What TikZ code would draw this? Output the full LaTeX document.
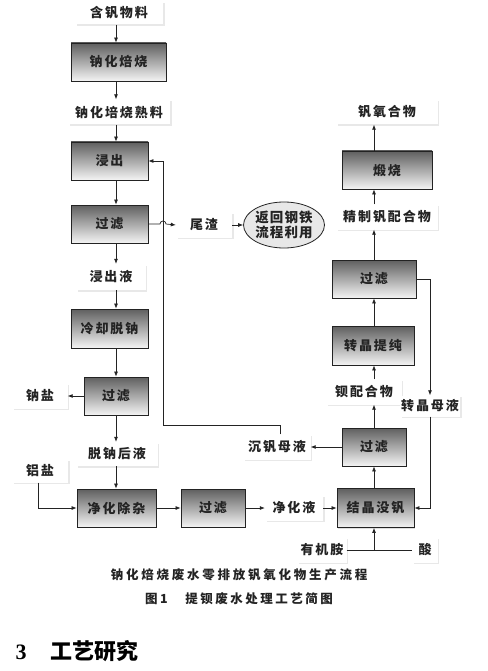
\documentclass[tikz,border=0pt]{standalone}
\usepackage{fontspec}
\setmainfont{Noto Sans CJK SC}
\newfontfamily\serifnum{Liberation Serif}
\usepackage{tikz}
\usetikzlibrary{arrows.meta}
\usetikzlibrary{shadows}
\usetikzlibrary{shapes.geometric}
\usepackage{xcolor}
\definecolor{boxtop}{RGB}{95,95,95}
\definecolor{boxbot}{RGB}{244,244,244}
\definecolor{ink}{RGB}{35,35,35}

\begin{document}
\begin{tikzpicture}[x=1pt,y=-1pt,
  spaced/.style={font=\bfseries\fontsize{13}{15}\selectfont\addfontfeature{LetterSpace=15}},
  stepbox/.style={draw=ink,line width=0.8pt,top color=boxtop,bottom color=boxbot,
    text=ink,inner sep=0pt,spaced,
    drop shadow={shadow xshift=1pt,shadow yshift=-1pt,opacity=0.25}},
  tag/.style={fill=white,text=ink,inner sep=0pt,spaced,
    drop shadow={shadow xshift=1.5pt,shadow yshift=-1.5pt,opacity=0.18,fill=gray}},
  arr/.style={draw=ink,line width=0.7pt,-{Latex[length=5pt,width=4pt]}},
  line/.style={draw=ink,line width=0.7pt}]
\useasboundingbox (0,0) rectangle (487,671);
\coordinate (spine) at (116,0);
\coordinate (spineR) at (374,0);

% left column
\node[tag,minimum width=88,minimum height=23] (hanfan) at (119,13) {含钒物料};
\node[stepbox,minimum width=95,minimum height=38] (shaohua) at (118.5,62) {钠化焙烧};
\node[tag,minimum width=102,minimum height=25] (shuliao) at (119,112) {钠化培烧熟料};
\node[stepbox,minimum width=77,minimum height=38] (jinchu) at (109.5,161) {浸出};
\node[stepbox,minimum width=77,minimum height=38] (guolvA) at (109.5,224) {过滤};
\node[tag,minimum width=56,minimum height=25] (weizha) at (204,225) {尾渣};
\node[ellipse,draw=ink,line width=0.8pt,fill=black!9,text=ink,inner sep=0pt,
  minimum width=78,minimum height=46,align=center,
  font=\bfseries\fontsize{13.5}{15}\selectfont\addfontfeature{LetterSpace=8}] (fanhui) at (284,225) {返回钢铁\\流程利用};
\node[tag,minimum width=69,minimum height=26] (jinchuye) at (111,277) {浸出液};
\node[stepbox,minimum width=77,minimum height=39] (lengque) at (109.5,328.5) {冷却脱钠};
\node[stepbox,minimum width=64,minimum height=38] (guolvB) at (116,396) {过滤};
\node[tag,minimum width=55,minimum height=25] (nayan) at (40,396) {钠盐};
\node[tag,minimum width=81,minimum height=24] (tuonaye) at (117,454) {脱钠后液};
\node[tag,minimum width=56,minimum height=23] (lvyan) at (40,471) {铝盐};
\node[stepbox,minimum width=79,minimum height=38] (jinghua) at (116.5,508) {净化除杂};
\node[stepbox,minimum width=64,minimum height=38] (guolvC) at (213,508) {过滤};
\node[tag,minimum width=58,minimum height=25] (jinghuaye) at (294,508) {净化液};

% right column
\node[stepbox,minimum width=77,minimum height=39] (chenfan) at (375.5,508) {结晶没钒};
\node[stepbox,minimum width=64,minimum height=38] (guolvD) at (374,447) {过滤};
\node[tag,minimum width=67,minimum height=25] (chenfanye) at (277,447) {沉钒母液};
\node[tag,minimum width=75,minimum height=25] (beipei) at (364,392) {钡配合物};
\node[tag,minimum width=60,minimum height=21] (zhuanjingye) at (430,406) {转晶母液};
\node[stepbox,minimum width=82,minimum height=39] (zhuanjing) at (373,345.5) {转晶提纯};
\node[stepbox,minimum width=84,minimum height=38] (guolvE) at (374,279) {过滤};
\node[tag,minimum width=101,minimum height=25] (jingzhi) at (387,217) {精制钒配合物};
\node[stepbox,minimum width=90,minimum height=38] (duanshao) at (387,170) {煅烧};
\node[tag,minimum width=101,minimum height=25] (fanyang) at (387,112) {钒氧合物};
\node[tag,minimum width=49,minimum height=25] (youji) at (322,550) {有机胺};
\node[tag,minimum width=25,minimum height=25] (suan) at (425,550) {酸};

% main line down
\draw[arr] (hanfan.south -| spine) -- (shaohua.north -| spine);
\draw[arr] (shaohua.south -| spine) -- (shuliao.north -| spine);
\draw[arr] (shuliao.south -| spine) -- (jinchu.north -| spine);
\draw[arr] (jinchu.south -| spine) -- (guolvA.north -| spine);
\draw[arr] (guolvA.south -| spine) -- (jinchuye.north -| spine);
\draw[arr] (jinchuye.south -| spine) -- (lengque.north -| spine);
\draw[arr] (lengque.south -| spine) -- (guolvB.north -| spine);
\draw[arr] (guolvB.south -| spine) -- (tuonaye.north -| spine);
\draw[arr] (tuonaye.south -| spine) -- (jinghua.north -| spine);
\draw[arr] (guolvB.west) -- (nayan.east);
\draw[arr] (lvyan.south -| 38,0) |- (jinghua.west);
\draw[arr] (jinghua.east) -- (guolvC.west);
\draw[arr] (guolvC.east) -- (jinghuaye.west);
\draw[arr] (jinghuaye.east) -- (chenfan.west);

% tailings, with a hop over the return line
\coordinate (ret) at (163,425);
\draw[arr] (guolvA.east) -- (160,224) arc[start angle=180,end angle=360,radius=3] -- (weizha.west);
\draw[arr] (weizha.east) -- (fanhui.west);
\draw[arr] (chenfanye.north -| 280,0) |- (ret) |- (jinchu.east);

% main line up
\draw[arr] (chenfan.north -| spineR) -- (guolvD.south -| spineR);
\draw[arr] (guolvD.west) -- (chenfanye.east);
\draw[arr] (guolvD.north -| spineR) -- (beipei.south -| spineR);
\draw[arr] (beipei.north -| spineR) -- (zhuanjing.south -| spineR);
\draw[arr] (zhuanjing.north -| spineR) -- (guolvE.south -| spineR);
\draw[arr] (guolvE.north -| spineR) -- (jingzhi.south -| spineR);
\draw[arr] (jingzhi.north -| spineR) -- (duanshao.south -| spineR);
\draw[arr] (duanshao.north -| spineR) -- (fanyang.south -| spineR);
\draw[arr] (guolvE.east) -| (zhuanjingye.north);
\draw[arr] (zhuanjingye.south) |- (chenfan.east);
\draw[line] (youji.east) -- (suan.west);
\draw[arr] (youji.east -| spineR) -- (chenfan.south -| spineR);

% captions
\node[text=ink,font=\bfseries\fontsize{12.5}{14}\selectfont\addfontfeature{LetterSpace=22}] (cap) at (239,575) {钠化焙烧废水零排放钒氧化物生产流程};
\node[text=ink,font=\bfseries\fontsize{12.5}{14}\selectfont\addfontfeature{LetterSpace=20}] (fig) at (239,599) {图1　提钡废水处理工艺简图};
\node[anchor=west,text=black,font=\bfseries\fontsize{22}{24}\selectfont] (sec) at (12,651) {{\serifnum 3}\hspace{24pt}工艺研究};
\end{tikzpicture}
\end{document}
